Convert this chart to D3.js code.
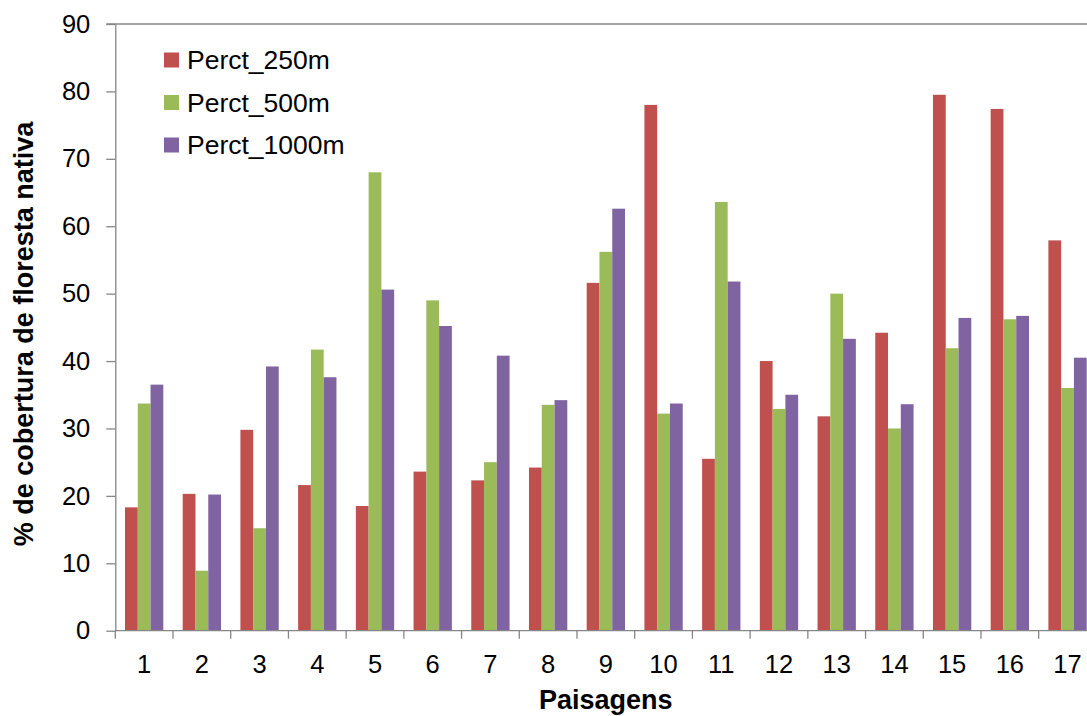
<!DOCTYPE html>
<html>
<head>
<meta charset="utf-8">
<script src="https://cdn.jsdelivr.net/npm/d3@7"></script>
<style>
  body { margin: 0; background: #fff; }
  svg { display: block; font-family: "Liberation Sans", Arial, sans-serif; }
</style>
</head>
<body>
<script>
// data
var categories = ["1","2","3","4","5","6","7","8","9","10","11","12","13","14","15","16","17"];
var seriesNames = ["Perct_250m", "Perct_500m", "Perct_1000m"];
var perct250 = [18.3, 20.3, 29.8, 21.6, 18.5, 23.6, 22.3, 24.2, 51.6, 78.0, 25.5, 40.0, 31.8, 44.2, 79.5, 77.4, 57.9];
var perct500 = [33.7, 8.9, 15.2, 41.7, 68.0, 49.0, 25.0, 33.5, 56.2, 32.2, 63.6, 32.9, 50.0, 30.0, 41.9, 46.2, 36.0];
var perct1000 = [36.5, 20.2, 39.2, 37.6, 50.6, 45.2, 40.8, 34.2, 62.6, 33.7, 51.8, 35.0, 43.3, 33.6, 46.4, 46.7, 40.5];
var yTicks = [0, 10, 20, 30, 40, 50, 60, 70, 80, 90];
var colors = ["#C0504D", "#9BBB59", "#8064A2"];
var axisColor = "#868686";

var allSeries = [perct250, perct500, perct1000];

var width = 1087, height = 716;
var plotLeft = 115.3, plotRight = 1096.4, plotTop = 24, plotBottom = 630.7;

var svg = d3.select("body").append("svg")
  .attr("width", width)
  .attr("height", height);

var x0 = d3.scaleBand().domain(categories).range([plotLeft, plotRight]).padding(0);
var bw = x0.bandwidth();
var x1 = d3.scaleBand().domain(seriesNames).range([bw * 0.168, bw * 0.832]).padding(0);
var y = d3.scaleLinear().domain([0, 90]).range([plotBottom, plotTop]);

//bars
var groups = svg.append("g").selectAll("g")
  .data(categories)
  .enter().append("g")
  .attr("transform", function(d) { return "translate(" + x0(d) + ",0)"; });

groups.selectAll("rect")
  .data(function(d, i) {
    return seriesNames.map(function(s, j) { return { s: s, v: allSeries[j][i], j: j }; });
  })
  .enter().append("rect")
  .attr("x", function(d) { return x1(d.s); })
  .attr("width", x1.bandwidth())
  .attr("y", function(d) { return y(d.v); })
  .attr("height", function(d) { return y(0) - y(d.v); })
  .attr("fill", function(d) { return colors[d.j]; });

//top border of plot area
svg.append("line")
  .attr("x1", plotLeft - 9).attr("x2", width)
  .attr("y1", plotTop).attr("y2", plotTop)
  .attr("stroke", axisColor).attr("stroke-width", 1.3);

//y axis
var yAxis = d3.axisLeft(y).tickValues(yTicks).tickSize(9).tickSizeOuter(0).tickPadding(16);
var gy = svg.append("g")
  .attr("transform", "translate(" + plotLeft + ",0)")
  .call(yAxis);
gy.select(".domain").attr("stroke", axisColor).attr("stroke-width", 1.3);
gy.selectAll(".tick line").attr("stroke", axisColor).attr("stroke-width", 1.3);
gy.selectAll(".tick text")
  .attr("font-size", 25.5)
  .attr("font-family", "'Liberation Sans', Arial, sans-serif")
  .attr("fill", "#000");

//x axis (labels at centres, ticks between categories)
var xAxis = d3.axisBottom(x0).tickSize(0).tickSizeOuter(0).tickPadding(24.5);
var gx = svg.append("g")
  .attr("transform", "translate(0," + plotBottom + ")")
  .call(xAxis);
gx.select(".domain").remove();
gx.append("line")
  .attr("x1", plotLeft).attr("x2", width)
  .attr("stroke", axisColor).attr("stroke-width", 1.3);
gx.selectAll(".tick text")
  .attr("font-size", 25.5)
  .attr("font-family", "'Liberation Sans', Arial, sans-serif")
  .attr("fill", "#000");
gx.selectAll(".sep")
  .data(categories)
  .enter().append("line")
  .attr("class", "sep")
  .attr("x1", function(d) { return x0(d); })
  .attr("x2", function(d) { return x0(d); })
  .attr("y1", 0).attr("y2", 8)
  .attr("stroke", axisColor).attr("stroke-width", 1.3);

//axis titles
svg.append("text")
  .attr("x", (plotLeft + plotRight) / 2)
  .attr("y", 709)
  .attr("text-anchor", "middle")
  .attr("font-size", 27)
  .attr("font-weight", "bold")
  .text("Paisagens");

svg.append("text")
  .attr("transform", "translate(33,334) rotate(-90)")
  .attr("text-anchor", "middle")
  .attr("font-size", 27)
  .attr("font-weight", "bold")
  .text("% de cobertura de floresta nativa");

//legend
var legend = svg.append("g").attr("transform", "translate(164,60)");
var items = legend.selectAll("g")
  .data(seriesNames)
  .enter().append("g")
  .attr("transform", function(d, i) { return "translate(0," + (i * 42.5) + ")"; });
items.append("rect")
  .attr("x", 0).attr("y", -7.5)
  .attr("width", 15).attr("height", 15)
  .attr("fill", function(d, i) { return colors[i]; });
items.append("text")
  .attr("x", 23).attr("y", 9.3)
  .attr("font-size", 26.5)
  .attr("fill", "#000")
  .text(function(d) { return d; });
</script>
</body>
</html>
